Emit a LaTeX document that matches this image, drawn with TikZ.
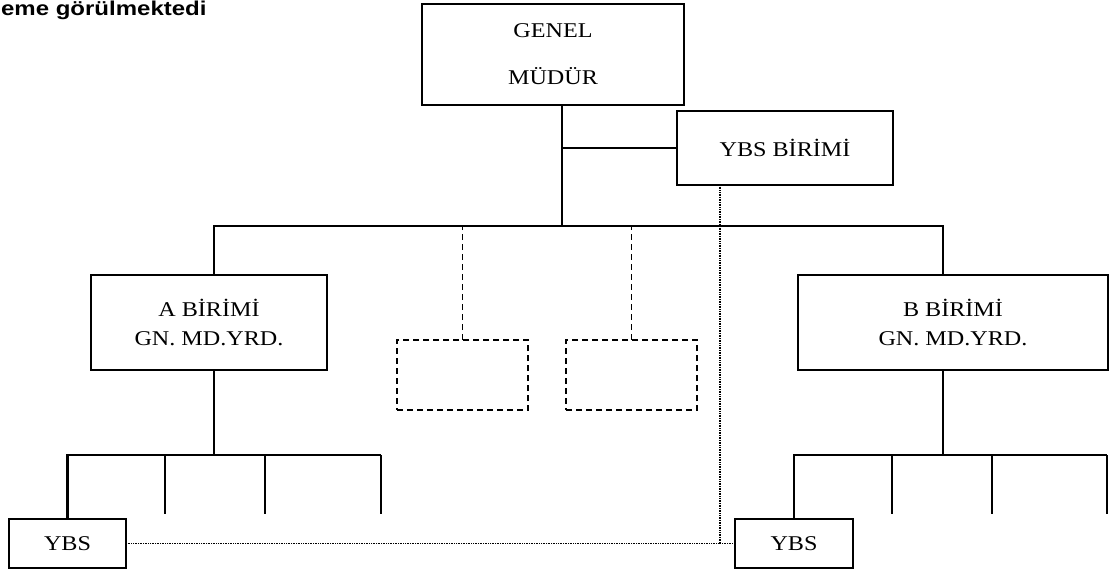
\documentclass[tikz,border=0pt]{standalone}
\usepackage{fontspec}
\setmainfont[FakeStretch=1.15]{Liberation Serif}
\newfontfamily\capfont[FakeStretch=1.2]{Liberation Sans}
\usetikzlibrary{positioning}

\begin{document}
\begin{tikzpicture}[x=1pt,y=-1pt,line width=2.3pt,
    unit/.style={draw,rectangle,inner sep=0pt,outer sep=0pt,align=center,
      font=\fontsize{21}{29}\selectfont},
    emptyunit/.style={unit,dash pattern=on 6pt off 4pt,line width=1.8pt},
    link/.style={draw},
    dashlink/.style={draw,dash pattern=on 6pt off 4pt,line width=1.8pt},
    dotlink/.style={draw,line width=1.2pt,dash pattern=on 1pt off 0.7pt}]

    \useasboundingbox (0,0) rectangle (1111,575);

    % caption line
    \node[anchor=base west,inner sep=0pt,font=\capfont\bfseries\fontsize{20}{24}\selectfont]
      (caption) at (0,16) {eme görülmektedi};

    % boxes
    \node[unit,minimum width=262pt,minimum height=101pt,
      font=\fontsize{21}{47}\selectfont] (GM) at (553,54.5) {GENEL\\MÜDÜR};
    \node[unit,minimum width=216pt,minimum height=74pt] (YBSB) at (785,148) {YBS BİRİMİ};
    \node[unit,minimum width=236pt,minimum height=95pt] (A) at (209,322.5) {A BİRİMİ\\GN. MD.YRD.};
    \node[unit,minimum width=310pt,minimum height=95pt] (B) at (953,322.5) {B BİRİMİ\\GN. MD.YRD.};
    \node[emptyunit,minimum width=131pt,minimum height=70pt] (E1) at (462.5,375) {};
    \node[emptyunit,minimum width=131pt,minimum height=70pt] (E2) at (631.5,375) {};
    \node[unit,minimum width=117pt,minimum height=49pt] (YBSa) at (67.5,543.5) {YBS};
    \node[unit,minimum width=118pt,minimum height=49pt] (YBSb) at (794,543.5) {YBS};

    % main tree
    \coordinate (hub) at (562,226);
    \coordinate (aTop) at (214,226);
    \coordinate (bTop) at (943,226);
    \draw[link] (hub |- GM.south) -- (hub);
    \draw[link] (hub |- YBSB.west) -- (YBSB.west);
    \draw[link] (aTop |- A.north) -- (aTop) -- (bTop) -- (bTop |- B.north);
    \draw[dashlink] (E1.north) -- (E1.north |- hub);
    \draw[dashlink] (E2.north) -- (E2.north |- hub);

    % A side
    \coordinate (aSub) at (214,455);
    \draw[link] (aTop |- A.south) -- (aSub);
    \draw[link] (YBSa.north) -- (YBSa.north |- aSub) -- (381,455);
    \foreach \x in {165,265,381}
      \draw[link] (\x,455) -- (\x,514);

    % B side
    \coordinate (bSub) at (943,455);
    \draw[link] (bTop |- B.south) -- (bSub);
    \draw[link] (YBSb.north) -- (YBSb.north |- bSub) -- (1107,455);
    \foreach \x in {892,992,1107}
      \draw[link] (\x,455) -- (\x,514);

    % YBS staff link
    \coordinate (dk) at (720,543.5);
    \draw[dotlink] (YBSB.south -| dk) -- (dk) -- (YBSb.west);
    \draw[dotlink] (YBSa.east) -- (dk);
\end{tikzpicture}
\end{document}
